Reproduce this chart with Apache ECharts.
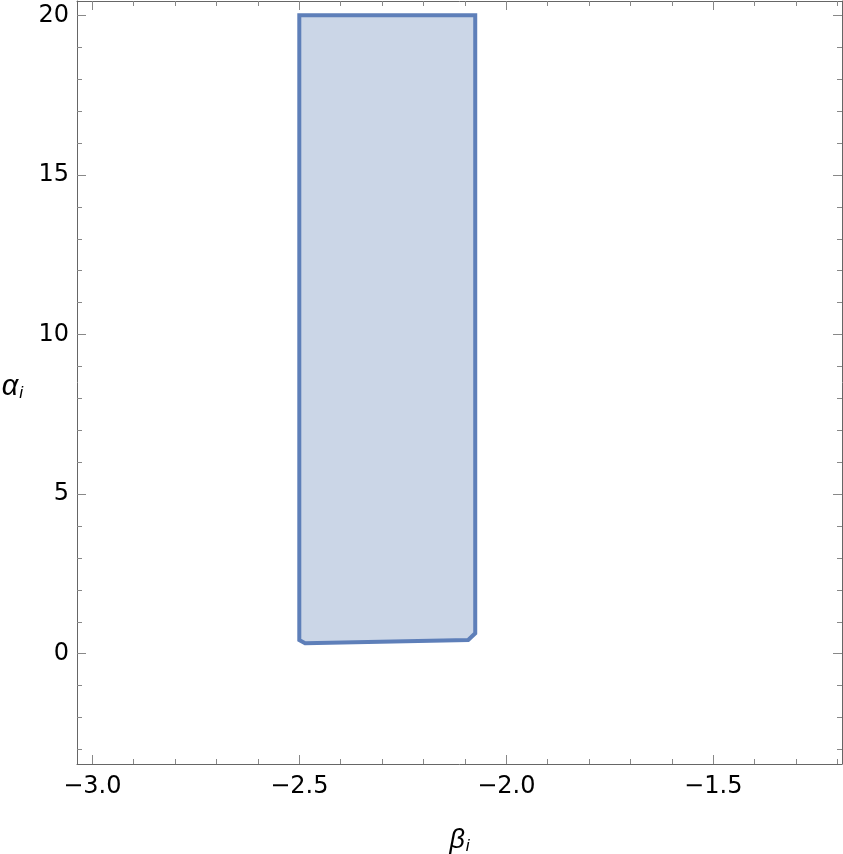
<!DOCTYPE html>
<html>
<head>
<meta charset="utf-8">
<script src="https://cdn.jsdelivr.net/npm/echarts@6/dist/echarts.min.js"></script>
<style>
html,body{margin:0;padding:0;background:#fff;}
#chart{width:843px;height:854px;}
</style>
</head>
<body>
<div id="chart"></div>
<script>
// Region boundary vertices (beta_i, alpha_i)
const betaVertices  = [-2.5, -2.075, -2.075, -2.092, -2.486, -2.5];
const alphaVertices = [20,   20,      0.64,   0.43,   0.33,   0.43];

// Axis ranges
const xRange = [-3.037, -1.189];
const yRange = [-3.455, 20.45];

// Tick values
const xMajorTicks = [-3.0, -2.5, -2.0, -1.5];
const xMinorTicks = [-2.9, -2.8, -2.7, -2.6, -2.4, -2.3, -2.2, -2.1, -1.9, -1.8, -1.7, -1.6, -1.4, -1.3, -1.2];
const yMajorTicks = [0, 5, 10, 15, 20];
const yMinorTicks = [-3, -2, -1, 1, 2, 3, 4, 6, 7, 8, 9, 11, 12, 13, 14, 16, 17, 18, 19];

const axisColor = '#666';
const tickColor = '#888';
const font = 'DejaVu Sans, Liberation Sans, Arial, sans-serif';
const nameFont = 'Liberation Sans, Arial, sans-serif';

function xAxisDef(position, ticks, len, showLine, showLabels, extra) {
  return Object.assign({
    type: 'value', position: position, min: xRange[0], max: xRange[1],
    axisLine: {show: showLine, onZero: false, lineStyle: {color: axisColor, width: 1}},
    axisTick: {show: true, inside: true, length: len, customValues: ticks, lineStyle: {color: tickColor, width: 1}},
    axisLabel: showLabels ? {show: true, customValues: ticks, margin: 11, color: '#000', fontSize: 24, fontFamily: font,
      formatter: v => (v < 0 ? '\u2212' : '') + Math.abs(v).toFixed(1)} : {show: false},
    splitLine: {show: false}
  }, extra || {});
}
function yAxisDef(position, ticks, len, showLine, showLabels, extra) {
  return Object.assign({
    type: 'value', position: position, min: yRange[0], max: yRange[1],
    axisLine: {show: showLine, onZero: false, lineStyle: {color: axisColor, width: 1}},
    axisTick: {show: true, inside: true, length: len, customValues: ticks, lineStyle: {color: tickColor, width: 1}},
    axisLabel: showLabels ? {show: true, customValues: ticks, margin: 8, color: '#000', fontSize: 24, fontFamily: font,
      formatter: v => String(v)} : {show: false},
    splitLine: {show: false}
  }, extra || {});
}

const chart = echarts.init(document.getElementById('chart'), null, {renderer: 'canvas'});
chart.setOption({
  animation: false,
  backgroundColor: '#fff',
  grid: {left: 77, right: 1, top: 1, bottom: 90, containLabel: false, outerBoundsMode: 'none'},
  xAxis: [
    xAxisDef('bottom', xMajorTicks, 9, true, true, {
      name: '{b|β}{s|i}', nameLocation: 'middle', nameGap: 62,
      nameTextStyle: {rich: {
        b: {fontSize: 27, fontStyle: 'italic', fontFamily: nameFont, color: '#000'},
        s: {fontSize: 17, fontStyle: 'italic', fontFamily: nameFont, color: '#000', verticalAlign: 'bottom', padding: [12, 0, 0, 1]}
      }}
    }),
    xAxisDef('bottom', xMinorTicks, 5, false, false),
    xAxisDef('top', xMajorTicks, 9, true, false),
    xAxisDef('top', xMinorTicks, 5, false, false)
  ],
  yAxis: [
    yAxisDef('left', yMajorTicks, 9, true, true, {
      name: '{a|α}{s|i}', nameLocation: 'middle', nameGap: 54, nameRotate: 0,
      nameTextStyle: {padding: [9, 0, 0, 0], rich: {
        a: {fontSize: 29, fontStyle: 'italic', fontFamily: nameFont, color: '#000'},
        s: {fontSize: 17, fontStyle: 'italic', fontFamily: nameFont, color: '#000', verticalAlign: 'bottom', padding: [12, 0, 0, 1]}
      }}
    }),
    yAxisDef('left', yMinorTicks, 5, false, false),
    yAxisDef('right', yMajorTicks, 9, true, false),
    yAxisDef('right', yMinorTicks, 5, false, false)
  ],
  series: [{
    type: 'custom',
    xAxisIndex: 0, yAxisIndex: 0,
    data: betaVertices.map((b, i) => [b, alphaVertices[i]]),
    renderItem: function (params, api) {
      if (params.dataIndex !== 0) return null;
      const pts = betaVertices.map((b, i) => api.coord([b, alphaVertices[i]]));
      return {
        type: 'polygon',
        shape: {points: pts},
        style: {fill: 'rgba(94,129,181,0.32)', stroke: '#5e7fb9', lineWidth: 4, lineJoin: 'miter'}
      };
    }
  }]
});
</script>
</body>
</html>
